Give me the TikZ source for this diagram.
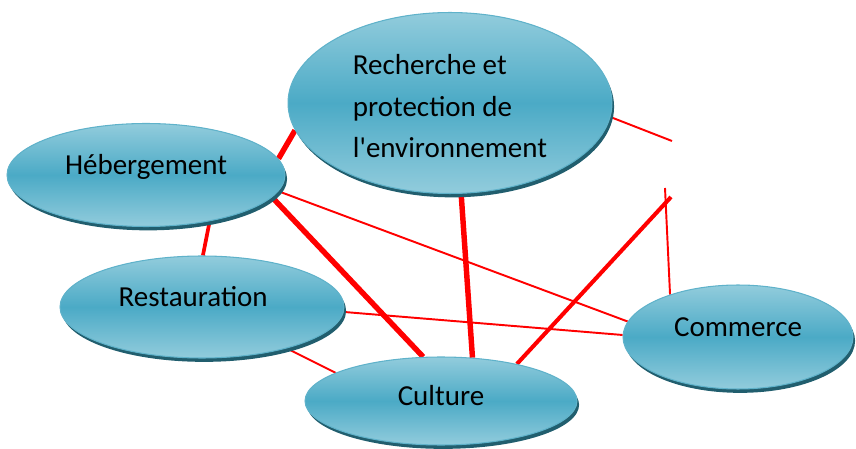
\documentclass[tikz,border=0pt]{standalone}
\usepackage{fontspec}
\setmainfont{Carlito}
\usetikzlibrary{shapes.geometric,shadows,backgrounds}

\definecolor{tealtop}{RGB}{146,204,220}
\definecolor{tealmid}{RGB}{75,170,198}
\definecolor{tealrim}{RGB}{95,178,202}
\definecolor{tealshade}{RGB}{33,94,110}

\tikzset{
  bubble/.style={ellipse,inner sep=0pt,draw=tealrim,line width=0.6pt,
    top color=tealtop,bottom color=tealtop,middle color=tealmid,
    drop shadow={shadow xshift=1.2pt,shadow yshift=-2.2pt,fill=tealshade,opacity=1},
    font=\fontsize{16.5}{23.5}\selectfont},
  oneline/.style={text height=8pt,text depth=9pt},
  thin link/.style={draw=red,line width=1.1pt},
  mid link/.style={draw=red,line width=2.1pt},
  thick link/.style={draw=red,line width=3.1pt}
}

\begin{document}
\begin{tikzpicture}[x=0.02cm,y=-0.02cm]
      \useasboundingbox (0,0) rectangle (856,449);

      \node[bubble,align=left,minimum width=6.48cm,minimum height=3.62cm] (rech) at (450,103)
        {\rule{0pt}{15pt}Recherche et\\protection de\\l\textquotesingle environnement};
      \node[bubble,oneline,minimum width=5.56cm,minimum height=2.06cm] (heb) at (146,175) {Hébergement};
      \node[bubble,oneline,minimum width=5.68cm,minimum height=2.04cm] (rest) at (202,307) {Restauration\kern10pt\relax};
      \node[bubble,text height=8pt,text depth=3pt,minimum width=5.44cm,minimum height=1.76cm] (cult) at (441,401) {Culture};
      \node[bubble,oneline,minimum width=4.6cm,minimum height=2.08cm] (comm) at (738,337) {Commerce};

      % loose ends on the right
      \coordinate (endA) at (671,197);
      \coordinate (endB) at (672,141);
      \coordinate (endC) at (665,188);

      \begin{pgfonlayer}{background}
      \draw[thick link] (rech.190) -- (heb.7);
      \draw[mid link] (heb.-36) -- (rest.89);
      \draw[thick link] (heb.-10) -- (cult.112);
      \draw[thin link] (heb.-7) -- (comm.172);
      \draw[thin link] (rest.-2) -- (comm.179);
      \draw[thin link] (rest.-26) -- (cult.165);
      \draw[thick link] (rech.-83) -- (cult.54);
      \draw[draw=red,line width=2.3pt] (cult.26) -- (endA);
      \draw[thin link] (rech.-5) -- (endB);
      \draw[thin link] (comm.148) -- (endC);
      \end{pgfonlayer}
    \end{tikzpicture}
\end{document}
